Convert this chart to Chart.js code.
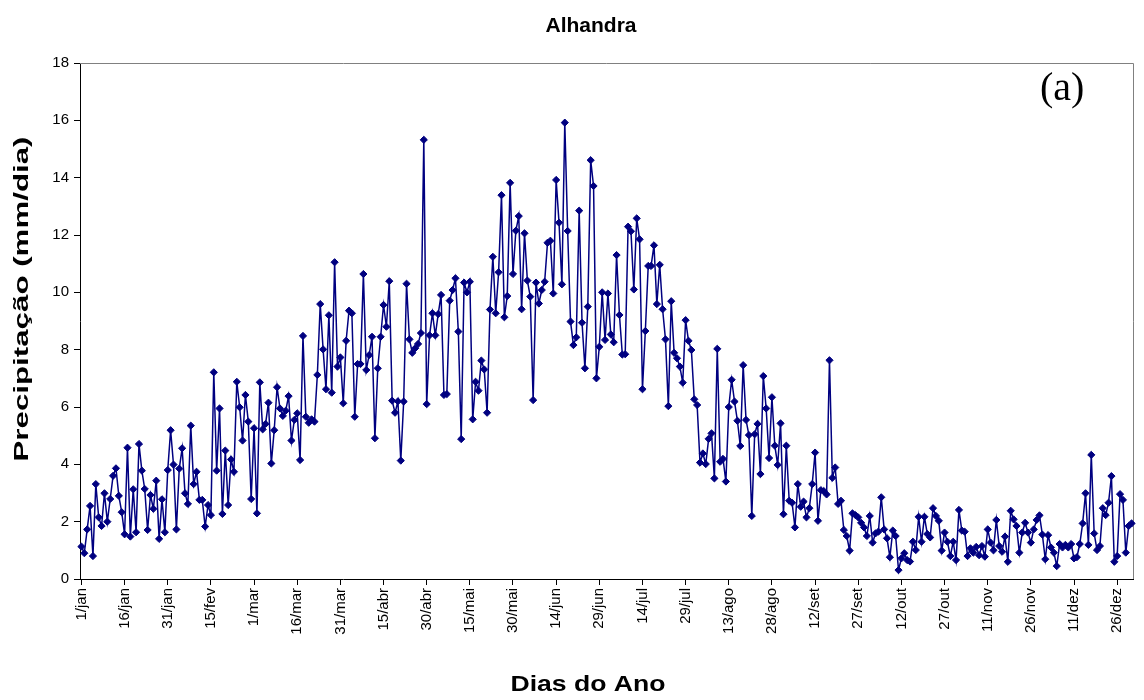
<!DOCTYPE html>
<html>
<head>
<meta charset="utf-8">
<script src="https://cdn.jsdelivr.net/npm/chart.js@4/dist/chart.umd.min.js"></script>
<style>
  body { margin: 0; background: #fff; }
  #wrap { width: 1144px; height: 700px; }
</style>
</head>
<body>
<div id="wrap"><canvas id="chart" width="1144" height="700"></canvas></div>
<script>
// meses e dias (rótulos do eixo x) - ano bissexto
const monthNames = ['jan', 'fev', 'mar', 'abr', 'mai', 'jun', 'jul', 'ago', 'set', 'out', 'nov', 'dez'];
const monthDays = [31, 29, 31, 30, 31, 30, 31, 31, 30, 31, 30, 31];

// precipitação diária (mm/dia)
const jan = [1.13, 0.90, 1.73, 2.55, 0.80, 3.31, 2.15, 1.85, 2.99, 2.00, 2.79, 3.60, 3.86, 2.90, 2.33, 1.56, 4.58, 1.48, 3.13, 1.63, 4.71, 3.78, 3.14, 1.71, 2.93, 2.45, 3.43, 1.40, 2.78, 1.63, 3.80];
const fev = [5.19, 3.99, 1.73, 3.85, 4.56, 2.99, 2.62, 5.35, 3.31, 3.74, 2.76, 2.76, 1.83, 2.58, 2.23, 7.21, 3.78, 5.95, 2.27, 4.48, 2.58, 4.17, 3.74, 6.88, 5.99, 4.83, 6.42, 5.49, 2.79];
const mar = [5.26, 2.29, 6.86, 5.22, 5.41, 6.15, 4.03, 5.19, 6.69, 5.95, 5.69, 5.87, 6.38, 4.83, 5.55, 5.78, 4.15, 8.48, 5.66, 5.45, 5.57, 5.49, 7.12, 9.59, 8.01, 6.62, 9.20, 6.50, 11.05, 7.41, 7.73];
const abr = [6.13, 8.31, 9.36, 9.27, 5.66, 7.50, 7.50, 10.64, 7.29, 7.81, 8.45, 4.91, 7.35, 8.45, 9.56, 8.80, 10.39, 6.22, 5.80, 6.20, 4.13, 6.19, 10.30, 8.36, 7.89, 8.05, 8.20, 8.58, 15.32, 6.10];
const mai = [8.50, 9.27, 8.50, 9.24, 9.91, 6.42, 6.45, 9.71, 10.08, 10.49, 8.63, 4.88, 10.34, 10.00, 10.37, 5.57, 6.88, 6.57, 7.62, 7.31, 5.80, 9.40, 11.24, 9.27, 10.70, 13.39, 9.13, 9.87, 13.82, 10.64, 12.15];
const jun = [12.66, 9.41, 12.06, 10.41, 9.85, 6.24, 10.34, 9.61, 10.08, 10.37, 11.73, 11.80, 9.96, 13.92, 12.43, 10.28, 15.92, 12.14, 8.98, 8.16, 8.43, 12.85, 8.94, 7.35, 9.50, 14.61, 13.71, 7.00, 8.10, 10.00];
const jul = [8.34, 9.96, 8.53, 8.26, 11.30, 9.21, 7.83, 7.84, 12.29, 12.13, 10.10, 12.58, 11.85, 6.62, 8.65, 10.92, 10.92, 11.64, 9.59, 10.96, 9.41, 8.36, 6.03, 9.69, 7.89, 7.70, 7.41, 6.85, 9.03, 8.31, 7.99];
const ago = [6.27, 6.07, 4.06, 4.38, 4.01, 4.89, 5.08, 3.51, 8.03, 4.09, 4.19, 3.40, 6.00, 6.95, 6.19, 5.52, 4.64, 7.46, 5.55, 5.02, 2.20, 5.05, 5.41, 3.66, 7.08, 5.95, 4.22, 6.34, 4.65, 3.98, 5.43];
const set = [2.26, 4.65, 2.73, 2.66, 1.80, 3.31, 2.52, 2.70, 2.15, 2.47, 3.31, 4.41, 2.03, 3.10, 3.07, 2.95, 7.63, 3.53, 3.89, 2.62, 2.73, 1.71, 1.50, 0.99, 2.29, 2.23, 2.15, 1.96, 1.80, 1.50];
const out = [2.20, 1.27, 1.59, 1.65, 2.85, 1.73, 1.42, 0.76, 1.69, 1.50, 0.31, 0.72, 0.90, 0.66, 0.61, 1.30, 1.01, 2.17, 1.30, 2.17, 1.57, 1.45, 2.47, 2.20, 2.03, 0.99, 1.62, 1.30, 0.80, 1.30, 0.66];
const nov = [2.41, 1.69, 1.65, 0.80, 1.07, 0.92, 1.12, 0.83, 1.15, 0.78, 1.73, 1.27, 1.00, 2.06, 1.15, 0.95, 1.48, 0.60, 2.38, 2.08, 1.85, 0.92, 1.62, 1.96, 1.62, 1.27, 1.73, 2.06, 2.22, 1.55];
const dez = [0.69, 1.53, 1.10, 0.92, 0.45, 1.22, 1.10, 1.19, 1.10, 1.22, 0.72, 0.76, 1.22, 1.94, 2.99, 1.19, 4.33, 1.59, 1.01, 1.15, 2.47, 2.23, 2.66, 3.59, 0.60, 0.80, 2.96, 2.76, 0.92, 1.85, 1.94];

const yMin = 0, yMax = 18, yStep = 2;
const labelEvery = 15;

const precip = [].concat(jan, fev, mar, abr, mai, jun, jul, ago, set, out, nov, dez);
const dayLabels = [];
monthNames.forEach((m, i) => {
    for (let d = 1; d <= monthDays[i]; d++) dayLabels.push(d + '/' + m);
});

const navy = '#000080';
const sans = '"Liberation Sans", Arial, sans-serif';

// texto esticado (o original tem fontes deformadas)
function stretchText(ctx, text, x, y, font, width, angle) {
    ctx.save();
    ctx.font = font;
    const w = ctx.measureText(text).width;
    ctx.translate(x, y);
    if (angle) ctx.rotate(angle);
    ctx.scale(width / w, 1);
    ctx.textAlign = 'center';
    ctx.textBaseline = 'middle';
    ctx.fillStyle = '#000';
    ctx.fillText(text, 0, 0);
    ctx.restore();
}

const decor = {
    id: 'decor',
    beforeDatasetsDraw(chart) {
        const { ctx, chartArea: a } = chart;
        ctx.save();
        ctx.strokeStyle = '#808080';
        ctx.lineWidth = 1;
        ctx.beginPath();
        ctx.moveTo(a.left, a.top + 0.5);
        ctx.lineTo(a.right + 0.5, a.top + 0.5);
        ctx.lineTo(a.right + 0.5, a.bottom);
        ctx.stroke();
        ctx.restore();
    },
    afterDraw(chart) {
        const ctx = chart.ctx;
        stretchText(ctx, 'Alhandra', 591, 26, 'bold 20px ' + sans, 91);
        stretchText(ctx, 'Precipitação (mm/dia)', 22, 299, 'bold 20px ' + sans, 325, -Math.PI / 2);
        stretchText(ctx, 'Dias do Ano', 588, 685, 'bold 22px ' + sans, 155);
        ctx.save();
        ctx.font = '40px "Liberation Serif", "Times New Roman", serif';
        ctx.fillStyle = '#000';
        ctx.textAlign = 'left';
        ctx.textBaseline = 'alphabetic';
        ctx.fillText('(a)', 1040, 100);
        ctx.restore();
    }
};

new Chart(document.getElementById('chart'), {
    type: 'line',
    data: {
        labels: dayLabels,
        datasets: [{
            data: precip,
            borderColor: navy,
            backgroundColor: navy,
            borderWidth: 1.5,
            pointStyle: 'rectRot',
            pointRadius: 3.6,
            pointBorderWidth: 1,
            pointBackgroundColor: navy,
            pointBorderColor: navy,
            tension: 0,
            fill: false
        }]
    },
    options: {
        responsive: false,
        animation: false,
        devicePixelRatio: 1,
        layout: { padding: { left: 0, top: 63, right: 11, bottom: 0 } },
        plugins: {
            legend: { display: false },
            tooltip: { enabled: false },
            title: { display: false }
        },
        scales: {
            x: {
                type: 'category',
                offset: true,
                afterFit: s => {
                    s.height = 121;
                    s.paddingLeft = 0;
                    s.paddingRight = 0;
                },
                border: { display: true, color: '#000', width: 1 },
                grid: {
                    drawOnChartArea: false,
                    drawTicks: true,
                    tickLength: 6,
                    offset: false,
                    color: c => (c.index % labelEvery === 0 ? '#000' : 'rgba(0,0,0,0)')
                },
                ticks: {
                    autoSkip: false,
                    minRotation: 90,
                    maxRotation: 90,
                    padding: 3,
                    color: '#000',
                    font: { family: sans, size: 15 },
                    callback: (v, i) => (i % labelEvery === 0 ? dayLabels[i] : '')
                }
            },
            y: {
                min: yMin,
                max: yMax,
                afterFit: s => { s.width = 80; },
                border: { display: true, color: '#000', width: 1 },
                grid: { drawOnChartArea: false, drawTicks: true, tickLength: 6, color: '#000' },
                ticks: {
                    stepSize: yStep,
                    padding: 5,
                    color: '#000',
                    font: { family: sans, size: 15 }
                }
            }
        }
    },
    plugins: [decor]
});
</script>
</body>
</html>
